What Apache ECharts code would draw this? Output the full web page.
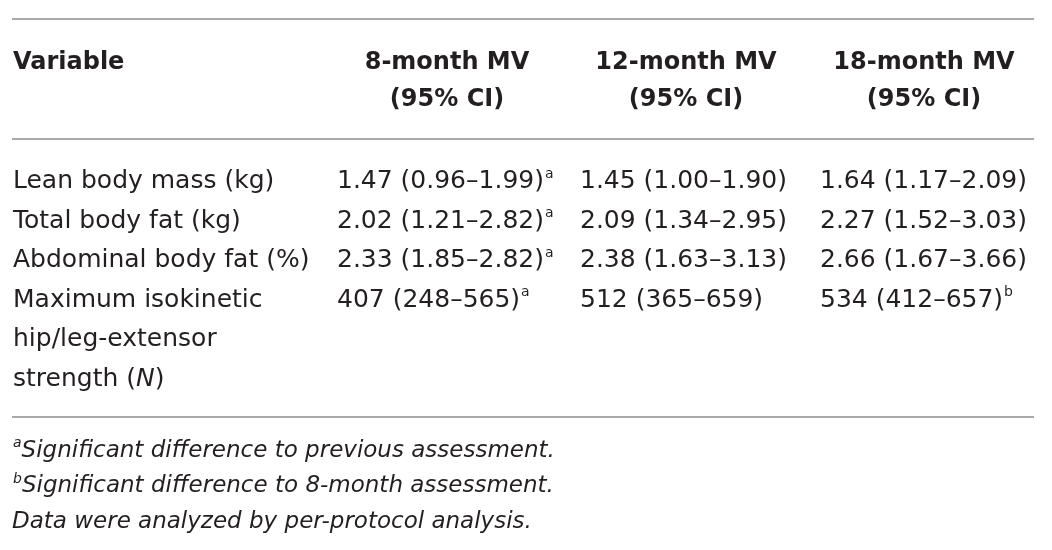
<!DOCTYPE html>
<html>
<head>
<meta charset="utf-8">
<script src="https://cdn.jsdelivr.net/npm/echarts@6/dist/echarts.min.js"></script>
<style>
  html, body { margin: 0; padding: 0; background: #fff; }
  #table-mv { width: 1052px; height: 550px; }
</style>
</head>
<body>
<div id="table-mv"></div>
<script>
/* Datos de la tabla */
var encabezados = ['Variable', '8-month MV', '12-month MV', '18-month MV'];
var subEncabezado = '(95% CI)';
var variables = [
    ['Lean body mass (kg)'],
    ['Total body fat (kg)'],
    ['Abdominal body fat (%)'],
    ['Maximum isokinetic', 'hip/leg-extensor', 'strength ({it|N})']
];
var mv8 = ['1.47 (0.96–1.99)', '2.02 (1.21–2.82)', '2.33 (1.85–2.82)', '407 (248–565)'];
var sup8 = ['a', 'a', 'a', 'a'];
var mv12 = ['1.45 (1.00–1.90)', '2.09 (1.34–2.95)', '2.38 (1.63–3.13)', '512 (365–659)'];
var sup12 = ['', '', '', ''];
var mv18 = ['1.64 (1.17–2.09)', '2.27 (1.52–3.03)', '2.66 (1.67–3.66)', '534 (412–657)'];
var sup18 = ['', '', '', 'b'];
var notas = [
    ['a', 'Significant difference to previous assessment.'],
    ['b', 'Significant difference to 8-month assessment.'],
    ['', 'Data were analyzed by per-protocol analysis.']
];
/* Fin de datos */

/* Posiciones de la maqueta */
var colX = [13, 337, 580, 820];
var colCentro = [0, 447, 686, 924];
var encY = [63, 100];
var filaY0 = 181.5, filaPaso = 39.5;
var notaY0 = 451, notaPaso = 35.5;
var reglas = [19, 139, 417];

var colorTexto = '#231f20';
var fuente = 'DejaVu Sans';
var rich = {
    sup: { fontSize: 14, lineHeight: 14, padding: [0, 0, 15, 1], color: colorTexto, fontFamily: fuente },
    it: { fontSize: 25, fontStyle: 'italic', color: colorTexto, fontFamily: fuente }
};

var celdas = [];
var texto = function (x, y, fmt, extra) {
    var lab = {
        show: true,
        position: 'inside',
        align: 'left',
        verticalAlign: 'middle',
        formatter: fmt,
        color: colorTexto,
        textBorderWidth: 0,
        fontFamily: fuente,
        fontSize: 25,
        rich: rich
    };
    for (var k in extra) { lab[k] = extra[k]; }
    celdas.push({ value: [x, y], label: lab });
};

// encabezado
texto(colX[0], encY[0], encabezados[0], { fontWeight: 'bold', fontSize: 24 });
for (var c = 1; c < encabezados.length; c++) {
    texto(colCentro[c], encY[0], encabezados[c], { fontWeight: 'bold', fontSize: 24, align: 'center' });
    texto(colCentro[c], encY[1], subEncabezado, { fontWeight: 'bold', fontSize: 24, align: 'center' });
}

// filas
var columnas = [[mv8, sup8], [mv12, sup12], [mv18, sup18]];
var linea = 0;
for (var i = 0; i < variables.length; i++) {
    var y = filaY0 + linea * filaPaso;
    for (var j = 0; j < variables[i].length; j++) {
        texto(colX[0], y + j * filaPaso, variables[i][j], {});
    }
    columnas.forEach(function (col, n) {
        var s = col[1][i] ? '{sup|' + col[1][i] + '}' : '';
        texto(colX[n + 1], y, col[0][i] + s, {});
    });
    linea += variables[i].length;
}

// notas
notas.forEach(function (nota, n) {
    var s = nota[0] ? '{sup|' + nota[0] + '}' : '';
    texto(colX[0] - 1, notaY0 + n * notaPaso, s + nota[1], { fontStyle: 'italic', fontSize: 23 });
});

var dom = document.getElementById('table-mv');
var myChart = echarts.init(dom);
var option = {
    animation: false,
    backgroundColor: '#fff',
    grid: { left: 12, width: 1022, top: 0, bottom: 0 },
    xAxis: { type: 'value', min: 12, max: 1034, show: false },
    yAxis: { type: 'value', min: 0, max: 550, inverse: true, show: false },
    series: [{
        type: 'scatter',
        symbolSize: 0,
        itemStyle: { opacity: 1 },
        data: celdas,
        silent: true,
        markLine: {
            silent: true,
            symbol: 'none',
            label: { show: false },
            lineStyle: { color: '#8c8c8c', width: 1.5, type: 'solid', opacity: 1 },
            data: reglas.map(function (r) { return { yAxis: r }; })
        }
    }]
};
myChart.setOption(option, true);
</script>
</body>
</html>
